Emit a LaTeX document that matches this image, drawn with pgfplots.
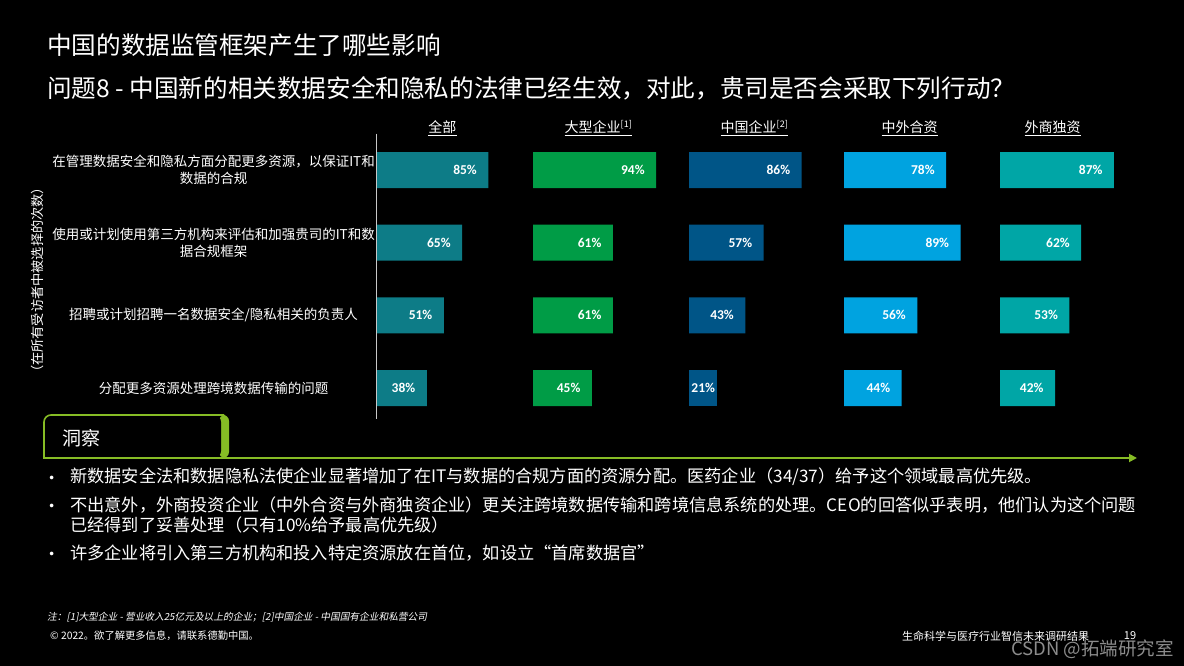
\documentclass[border=0pt]{standalone}
\usepackage{fontspec}
\setmainfont{Noto Sans CJK SC}
\newfontfamily\cjkit[FakeSlant=0.2]{Noto Sans CJK SC}
\newfontfamily\lat{Carlito}
\usepackage{pgfplots}
\pgfplotsset{compat=1.18}
\usepackage{pgfplotstable}
\usetikzlibrary{arrows.meta}

\definecolor{cA}{RGB}{13,124,135}
\definecolor{cB}{RGB}{0,156,70}
\definecolor{cC}{RGB}{0,85,135}
\definecolor{cD}{RGB}{0,163,224}
\definecolor{cE}{RGB}{0,166,166}
\definecolor{dgreen}{RGB}{134,188,37}
\definecolor{wm}{RGB}{140,140,140}

% row: 3 = top row
\pgfplotstableread{
row all large cn jv wfoe
3 85 94 86 78 87
2 65 61 57 89 62
1 51 61 43 56 53
0 38 45 21 44 42
}\datatab

\pgfplotsset{
  panel/.style={
    anchor=north west, scale only axis,
    width=131pt, height=290.7pt,
    xmin=0, xmax=100, ymin=-0.5, ymax=3.5,
    xbar, bar width=36pt,
    axis line style={draw=none},
    xtick=\empty, ytick=\empty,
    clip=false,
    point meta=x,
    nodes near coords={\pgfmathprintnumber[assume math mode=true]{\pgfplotspointmeta}\%},
    every node near coord/.append style={anchor=east, xshift=-8pt,
      font=\lat\bfseries\fontsize{13.5}{13.5}\selectfont, text=white},
    title style={at={(0.5,1)}, anchor=base, yshift=-5pt,
      font=\fontsize{14}{16}\selectfont, text=white},
  },
}

\begin{document}
\begin{tikzpicture}[x=1pt,y=1pt,color=white]
\fill[black] (0,0) rectangle (1184,666);
\useasboundingbox (0,0) rectangle (1184,666);

% titles
\node[anchor=west, inner sep=0pt, font=\fontsize{24.6}{28}\selectfont] at (47,621) {中国的数据监管框架产生了哪些影响};
\node[anchor=west, inner sep=0pt, font=\fontsize{24.6}{28}\selectfont] at (47,578) {问题8 - 中国新的相关数据安全和隐私的法律已经生效，对此，贵司是否会采取下列行动？};

% vertical label
\node[rotate=90, inner sep=0pt, font=\fontsize{13.2}{15}\selectfont] at (37,386) {（在所有受访者中被选择的次数）};

% panel 1
\begin{axis}[panel, at={(377pt,532.3pt)},
  title={\underline{全部}},
  ytick={0,1,2,3},
  yticklabels={{分配更多资源处理跨境数据传输的问题},
               {招聘或计划招聘一名数据安全/隐私相关的负责人},
               {使用或计划使用第三方机构来评估和加强贵司的IT和数\\据合规框架},
               {在管理数据安全和隐私方面分配更多资源，以保证IT和\\数据的合规}},
  ytick style={draw=none},
  yticklabel style={text width=340pt, align=center, inner sep=0pt, xshift=11pt,
    font=\fontsize{13.5}{17}\selectfont, text=white},
]
\addplot[fill=cA, draw=none, bar shift=0pt] table[x=all, y=row]{\datatab};
\draw[color={rgb,255:red,200;green,200;blue,200}, line width=1pt] (rel axis cs:0,1) -- (rel axis cs:0,0.02);
\end{axis}

% panel 2
\begin{axis}[panel, at={(533pt,532.3pt)},
  title={\underline{大型企业\textsuperscript{\fontsize{9}{9}\selectfont[1]}}}]
\addplot[fill=cB, draw=none, bar shift=0pt] table[x=large, y=row]{\datatab};
\end{axis}

% panel 3
\begin{axis}[panel, at={(689pt,532.3pt)},
  title={\underline{中国企业\textsuperscript{\fontsize{9}{9}\selectfont[2]}}}]
\addplot[fill=cC, draw=none, bar shift=0pt, restrict y to domain=0.5:3.5] table[x=cn, y=row]{\datatab};
\addplot[fill=cC, draw=none, bar shift=0pt, restrict y to domain=-0.5:0.5,
  every node near coord/.append style={xshift=10pt}] table[x=cn, y=row]{\datatab};
\end{axis}

% panel 4
\begin{axis}[panel, at={(844pt,532.3pt)},
  title={\underline{中外合资}}]
\addplot[fill=cD, draw=none, bar shift=0pt] table[x=jv, y=row]{\datatab};
\end{axis}

% panel 5
\begin{axis}[panel, at={(1000pt,532.3pt)},
  title={\underline{外商独资}}, title style={xshift=-13pt}]
\addplot[fill=cE, draw=none, bar shift=0pt] table[x=wfoe, y=row]{\datatab};
\end{axis}

% insight box
\fill[dgreen, rounded corners=6pt] (219,208) -- (219,251) -- (229,251) -- (229,208) -- cycle;
\fill[black, rounded corners=6pt] (45,208.9) -- (45,250.2) -- (221,250.2) -- (221,208.9) -- cycle;
\draw[dgreen, line width=1.6pt, rounded corners=7pt] (44,208) -- (44,251) -- (224,251);
\draw[dgreen, line width=1.8pt, -{Triangle[length=8pt,width=8pt]}] (43,208) -- (1137,208);
\node[anchor=west, inner sep=0pt, font=\fontsize{19}{22}\selectfont] at (62,228) {洞察};

% bullets
\begin{scope}[every node/.style={anchor=west, inner sep=0pt, font=\fontsize{17.2}{20}\selectfont}]
\node at (43,186) {•};
\node at (70,189) {新数据安全法和数据隐私法使企业显著增加了在IT与数据的合规方面的资源分配。医药企业（34/37）给予这个领域最高优先级。};
\node at (43,158) {•};
\node at (70,161) {不出意外，外商投资企业（中外合资与外商独资企业）更关注跨境数据传输和跨境信息系统的处理。CEO的回答似乎表明，他们认为这个问题};
\node at (70,141) {已经得到了妥善处理（只有10\%给予最高优先级）};
\node at (43,110) {•};
\node at (70,113) {许多企业将引入第三方机构和投入特定资源放在首位，如设立“首席数据官”};
\end{scope}

% footnotes
\node[anchor=west, inner sep=0pt, font=\cjkit\fontsize{9.7}{12}\selectfont] at (47,49) {注：[1]大型企业 - 营业收入25亿元及以上的企业；[2]中国企业 - 中国国有企业和私营公司};
\node[anchor=west, inner sep=0pt, font=\fontsize{10.3}{12}\selectfont] at (50,30) {© 2022。欲了解更多信息，请联系德勤中国。};
\node[anchor=west, inner sep=0pt, font=\fontsize{11}{13}\selectfont] at (902,30) {生命科学与医疗行业智信未来调研结果};
\node[anchor=center, inner sep=0pt, font=\fontsize{11}{13}\selectfont] at (1130,30) {19};
\node[anchor=west, inner sep=0pt, font=\fontsize{18.5}{20}\selectfont, text=wm] at (1011,17) {CSDN @拓端研究室};
\end{tikzpicture}
\end{document}
